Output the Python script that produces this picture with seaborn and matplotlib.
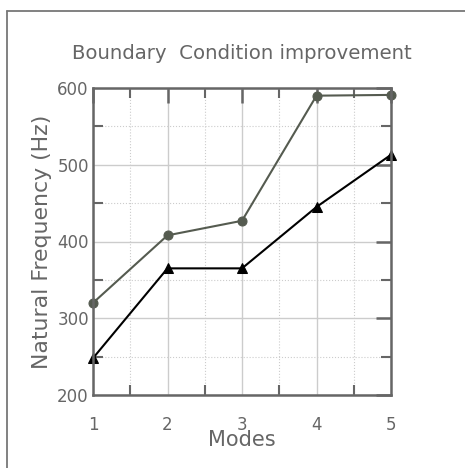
import matplotlib
matplotlib.use("Agg")
import matplotlib.pyplot as plt
from matplotlib.lines import Line2D
from matplotlib.ticker import MultipleLocator
import seaborn as sns
import pandas as pd

# Natural frequencies (Hz) for the first five modes
modes = [1, 2, 3, 4, 5]
improved = [320, 408, 427, 590, 591]
original = [248, 365, 365, 445, 513]

sns.set_theme(style="white")
plt.rcParams["font.family"] = ["DejaVu Sans"]

W, H = 465, 468
fig = plt.figure(figsize=(W / 100, H / 100), dpi=100)
ax = fig.add_axes([93 / W, 1 - 395 / H, (391 - 93) / W, (395 - 88) / H])

df = pd.DataFrame({
    "Modes": modes * 2,
    "freq": improved + original,
    "series": ["improved"] * 5 + ["original"] * 5,
})

sns.lineplot(data=df[df.series == "improved"], x="Modes", y="freq", ax=ax,
             color="#555b50", marker="o", markersize=6.5, linewidth=1.5,
             markeredgecolor="#555b50", clip_on=False)
sns.lineplot(data=df[df.series == "original"], x="Modes", y="freq", ax=ax,
             color="#000000", marker="^", markersize=6.5, linewidth=1.5,
             markeredgecolor="#000000", clip_on=False)

ax.set_xlim(1, 5)
ax.set_ylim(200, 600)
ax.xaxis.set_major_locator(MultipleLocator(1))
ax.xaxis.set_minor_locator(MultipleLocator(0.5))
ax.yaxis.set_major_locator(MultipleLocator(100))
ax.yaxis.set_minor_locator(MultipleLocator(50))

ax.grid(which="major", color="#cccccc", linewidth=1.0, linestyle="-")
ax.grid(which="minor", color="#cccccc", linewidth=0.8, linestyle=":")
ax.set_axisbelow(True)

for s in ax.spines.values():
    s.set_color("#666666")
    s.set_linewidth(1.8)

ax.tick_params(which="major", direction="in", length=11, width=1.8, color="#666666",
               top=True, right=True, labelsize=12, labelcolor="#666666")
ax.tick_params(which="minor", direction="in", length=7, width=1.5, color="#666666",
               top=True, right=True, bottom=True, left=True)
ax.tick_params(axis="x", pad=15)
ax.tick_params(axis="y", pad=3)

ax.set_xlabel("Modes", fontsize=15, color="#666666", labelpad=-3)
ax.set_ylabel("Natural Frequency (Hz)", fontsize=15.8, color="#666666", labelpad=4)
ax.set_title("Boundary  Condition improvement", fontsize=14.2, color="#666666", pad=21)

# outer frame around the figure
fig.add_artist(Line2D([6.5 / W, 6.5 / W], [0, 1 - 10.5 / H], transform=fig.transFigure,
                      color="#777777", linewidth=1.3))
fig.add_artist(Line2D([6.5 / W, 1], [1 - 10.5 / H, 1 - 10.5 / H], transform=fig.transFigure,
                      color="#777777", linewidth=1.3))

fig.savefig("out.png", dpi=100)
